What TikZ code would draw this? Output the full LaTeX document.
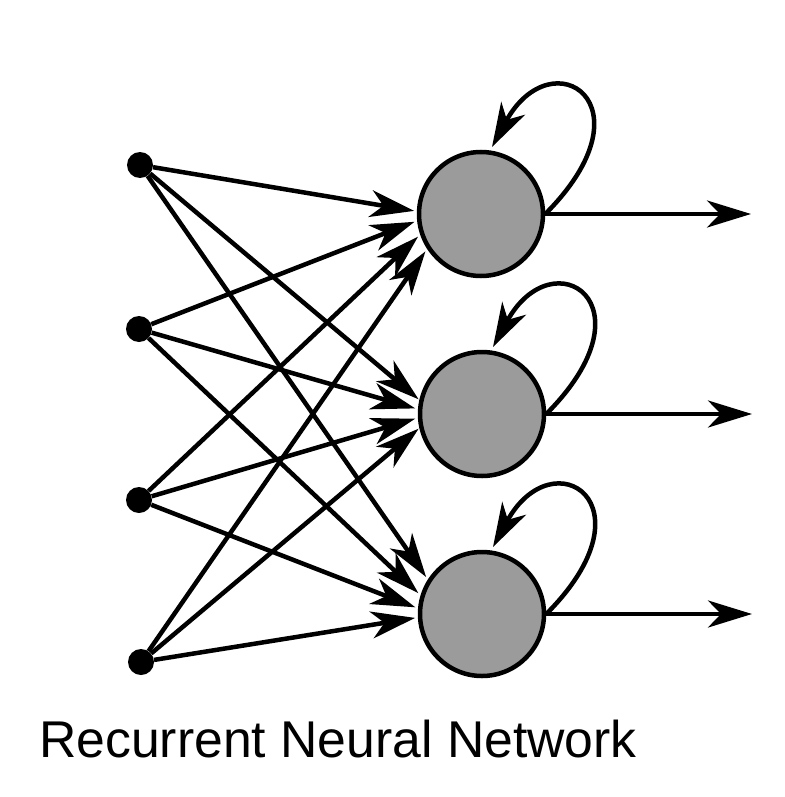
\documentclass[tikz,border=0pt]{standalone}
\usepackage{fontspec}
\setmainfont{Liberation Sans}
\usetikzlibrary{arrows.meta,calc}
\definecolor{neurongray}{HTML}{9B9B9B}
\begin{document}
\begin{tikzpicture}[x=1pt,y=-1pt,
  inputdot/.style={circle,fill=black,minimum size=26pt,inner sep=0pt},
  neuron/.style={circle,draw=black,line width=4.5pt,fill=neurongray,minimum size=124pt,inner sep=0pt},
  arr/.style={line width=4.5pt,-{Stealth[length=44pt,width=27pt,inset=13pt]}},
  caption/.style={font=\fontsize{51.7}{60}\selectfont,inner sep=0pt,anchor=base west}
]
\useasboundingbox (0,0) rectangle (784,797);
% input nodes
\node[inputdot] (i1) at (140,165) {};
\node[inputdot] (i2) at (139,329) {};
\node[inputdot] (i3) at (139,500) {};
\node[inputdot] (i4) at (141,662) {};
% recurrent neurons
\node[neuron] (h1) at (481,214) {};
\node[neuron] (h2) at (482,414) {};
\node[neuron] (h3) at (482,614) {};
% input targets
\coordinate (t11) at ($(h1)+(-66.9,-3.1)$);
\coordinate (t21) at ($(h1)+(-66.5,7.8)$);
\coordinate (t31) at ($(h1)+(-63,22.7)$);
\coordinate (t41) at ($(h1)+(-55.6,37.4)$);
\coordinate (t12) at ($(h2)+(-63.4,-14.7)$);
\coordinate (t22) at ($(h2)+(-66.8,-5.6)$);
\coordinate (t32) at ($(h2)+(-66.8,4.7)$);
\coordinate (t42) at ($(h2)+(-63.4,14.7)$);
\coordinate (t13) at ($(h3)+(-55.9,-37)$);
\coordinate (t23) at ($(h3)+(-63.7,-20.9)$);
\coordinate (t33) at ($(h3)+(-66.7,-6.7)$);
\coordinate (t43) at ($(h3)+(-66.9,3.9)$);
\foreach \i in {1,2,3,4}{
  \foreach \j in {1,2,3}{
    \draw[arr] (i\i) -- (t\i\j);
  }
}
% self loops and outputs
\foreach \j in {1,2,3}{
  \coordinate (l\j) at ($(h\j)+(11,-67)$);
  \coordinate (o\j) at ($(h\j)+(270,0)$);
  \draw[arr] (h\j.east) .. controls +(110,-110) and +(60,-110) .. (l\j);
  \draw[arr] (h\j.east) -- (o\j);
}
\node[caption] (cap) at (39,757) {Recurrent Neural Network};
\end{tikzpicture}
\end{document}
